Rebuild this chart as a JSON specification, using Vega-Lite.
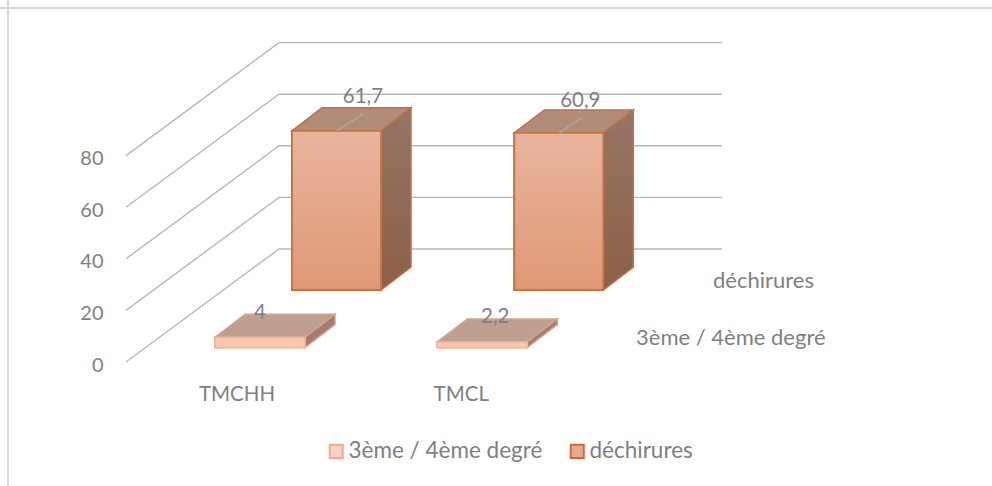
{
"$schema":"https://vega.github.io/schema/vega-lite/v6.json",
"width":992,"height":486,"padding":0,"autosize":{"type":"none"},
"background":"white",
"config":{"view":{"stroke":null},"font":"Lato","text":{"font":"Lato"}},
"datasets":{
"bars":[
{"category":"TMCHH","series":"3ème / 4ème degré","value":4},
{"category":"TMCL","series":"3ème / 4ème degré","value":2.2},
{"category":"TMCHH","series":"déchirures","value":61.7},
{"category":"TMCL","series":"déchirures","value":60.9}],
"levels":[{"level":0},{"level":20},{"level":40},{"level":60},{"level":80}]
},
"data":{"name":"bars"},
"transform":[
{"calculate":"datum.series=='déchirures'?1:0","as":"s"},
{"calculate":"datum.category=='TMCHH'?0:1","as":"c"},
{"calculate":"215+222.3*datum.c+77*datum.s","as":"left"},
{"calculate":"datum.left+90-datum.s","as":"right"},
{"calculate":"datum.s==1?27.9:5.6","as":"base"},
{"calculate":"datum.base+datum.value","as":"top"},
{"calculate":"replace(toString(datum.value),'.',',')","as":"label"},
{"calculate":"datum.s==1?datum.left+71-5*datum.c:datum.left+45+13*datum.c","as":"labelX"},
{"calculate":"datum.top+8.9+(datum.s==1?4.2-0.8*datum.c:0.6)","as":"labelY"},
{"calculate":"datum.left+45","as":"leadX"},
{"calculate":"datum.left+71-4*datum.c","as":"leadX2"},
{"calculate":"datum.top+6.6-0.8*datum.c","as":"leadY2"},
{"calculate":"datum.left+22+2*datum.c","as":"catX"},
{"calculate":"datum.left+421","as":"serX"},
{"calculate":"datum.base+3.6","as":"serY"}
],
"layer":[
{"data":{"name":"levels"},
 "transform":[
 {"calculate":"[0,1,2]","as":"k"},{"flatten":["k"]},
 {"calculate":"[126,279,722][datum.k]","as":"gx"},
 {"calculate":"datum.level+[0,43.8,43.8][datum.k]","as":"gy"}],
 "mark":{"type":"line","color":"#b8b8b8","strokeWidth":1.4},
 "encoding":{
 "x":{"field":"gx","type":"quantitative","scale":{"domain":[0,992],"nice":false,"zero":false},"axis":null},
 "y":{"field":"gy","type":"quantitative","title":null,"scale":{"domain":[-48.06,140.31],"nice":false,"zero":false},
  "axis":{"title":null,"values":[0,20,40,60,80],"domain":false,"ticks":false,"grid":false,"offset":-108,"labelPadding":5,"labelFontSize":20,"labelColor":"#7f7f7f","labelFont":"Lato","labelOffset":3}},
 "detail":{"field":"level","type":"quantitative"}}},
{"data":{"values":[{"f":"frame"}]},
 "mark":{"type":"rule","color":"#d9d9d9","strokeWidth":2},
 "encoding":{"x":{"datum":8,"type":"quantitative","axis":null}}},
{"data":{"values":[{"f":"frame"}]},
 "mark":{"type":"rule","color":"#d9d9d9","strokeWidth":2},
 "encoding":{"y":{"datum":137.2,"type":"quantitative","title":null}}},
{"mark":{"type":"rect","strokeWidth":2},
 "encoding":{
 "x":{"field":"left","type":"quantitative","axis":null},"x2":{"field":"right"},
 "y":{"field":"top","type":"quantitative","title":null},"y2":{"field":"base"},
 "fill":{"field":"series","type":"nominal","scale":{"domain":["3ème / 4ème degré","déchirures"],"range":["#f9d3c3","#e5a994"]},
  "legend":{"title":null,"orient":"none","legendX":325,"legendY":440,"direction":"horizontal","symbolType":"square","symbolSize":170,"symbolStrokeWidth":2,"labelFontSize":22.5,"labelColor":"#7f7f7f","labelFont":"Lato","labelLimit":400,"columnPadding":23,"labelOffset":1}},
 "stroke":{"field":"series","type":"nominal","scale":{"domain":["3ème / 4ème degré","déchirures"],"range":["#f4a98a","#cd6b32"]}}}},
{"transform":[
 {"calculate":"[0,1,2,3]","as":"k"},{"flatten":["k"]},
 {"calculate":"[datum.left,datum.left+30,datum.right,datum.right+30][datum.k]","as":"ax"},
 {"calculate":"datum.top+[0,8.9,8.9,8.9][datum.k]","as":"ay"},
 {"calculate":"datum.top+[0,0,0,8.9][datum.k]","as":"ay2"}],
 "mark":{"type":"area","strokeWidth":1.5},
 "encoding":{
 "x":{"field":"ax","type":"quantitative","axis":null},
 "y":{"field":"ay","type":"quantitative","title":null},"y2":{"field":"ay2"},
 "detail":[{"field":"series","type":"nominal"},{"field":"category","type":"nominal"}],
 "fill":{"condition":{"test":"datum.s==1","value":"#b18c78"},"value":"#bf9f8e"},
 "stroke":{"condition":{"test":"datum.s==1","value":"#b9734a"},"value":"#d3a48e"}}},
{"transform":[
 {"filter":"datum.s==1"},
 {"calculate":"[0,1]","as":"k"},{"flatten":["k"]},
 {"calculate":"datum.right+30*datum.k","as":"ax"},
 {"calculate":"datum.top+8.9*datum.k","as":"ay"},
 {"calculate":"datum.base+8.9*datum.k","as":"ay2"}],
 "mark":{"type":"area","strokeWidth":1.5,"stroke":"#b9734a","fill":{"gradient":"linear","x1":0,"y1":0,"x2":0,"y2":1,"stops":[{"offset":0,"color":"#957565"},{"offset":1,"color":"#8e5f48"}]}},
 "encoding":{
 "x":{"field":"ax","type":"quantitative","axis":null},
 "y":{"field":"ay","type":"quantitative","title":null},"y2":{"field":"ay2"},
 "detail":{"field":"category","type":"nominal"}}},
{"transform":[
 {"filter":"datum.s==0"},
 {"calculate":"[0,1]","as":"k"},{"flatten":["k"]},
 {"calculate":"datum.right+30*datum.k","as":"ax"},
 {"calculate":"datum.top+8.9*datum.k","as":"ay"},
 {"calculate":"datum.base+8.9*datum.k","as":"ay2"}],
 "mark":{"type":"area","strokeWidth":1.5,"stroke":"#d3a48e","fill":"#a37e6d"},
 "encoding":{
 "x":{"field":"ax","type":"quantitative","axis":null},
 "y":{"field":"ay","type":"quantitative","title":null},"y2":{"field":"ay2"},
 "detail":{"field":"category","type":"nominal"}}},
{"transform":[{"filter":"datum.s==1"}],
 "mark":{"type":"rect","strokeWidth":1.8,"stroke":"#c8743f","fill":{"gradient":"linear","x1":0,"y1":0,"x2":0,"y2":1,"stops":[{"offset":0,"color":"#e8b49e"},{"offset":1,"color":"#df9875"}]}},
 "encoding":{
 "x":{"field":"left","type":"quantitative","axis":null},"x2":{"field":"right"},
 "y":{"field":"top","type":"quantitative","title":null},"y2":{"field":"base"}}},
{"transform":[{"filter":"datum.s==0"}],
 "mark":{"type":"rect","strokeWidth":1.5,"stroke":"#f1b598","fill":"#fbc9b2"},
 "encoding":{
 "x":{"field":"left","type":"quantitative","axis":null},"x2":{"field":"right"},
 "y":{"field":"top","type":"quantitative","title":null},"y2":{"field":"base"}}},
{"transform":[{"filter":"datum.s==1"}],
 "mark":{"type":"rule","color":"#a9a9a9","strokeWidth":1.2},
 "encoding":{
 "x":{"field":"leadX","type":"quantitative","axis":null},"x2":{"field":"leadX2"},
 "y":{"field":"top","type":"quantitative","title":null},"y2":{"field":"leadY2"}}},
{"mark":{"type":"text","fontSize":20.5,"color":"#7f7f7f","align":"center","baseline":"middle"},
 "encoding":{
 "x":{"field":"labelX","type":"quantitative","axis":null},
 "y":{"field":"labelY","type":"quantitative","title":null},
 "text":{"field":"label","type":"nominal"}}},
{"transform":[{"filter":"datum.s==0"},{"calculate":"-12.6","as":"catY"}],
 "mark":{"type":"text","fontSize":20.5,"color":"#7f7f7f","align":"center","baseline":"middle"},
 "encoding":{
 "x":{"field":"catX","type":"quantitative","axis":null},
 "y":{"field":"catY","type":"quantitative","title":null},
 "text":{"field":"category","type":"nominal"}}},
{"transform":[{"filter":"datum.c==0"}],
 "mark":{"type":"text","fontSize":22,"color":"#7f7f7f","align":"left","baseline":"middle"},
 "encoding":{
 "x":{"field":"serX","type":"quantitative","axis":null},
 "y":{"field":"serY","type":"quantitative","title":null},
 "text":{"field":"series","type":"nominal"}}}
]
}
